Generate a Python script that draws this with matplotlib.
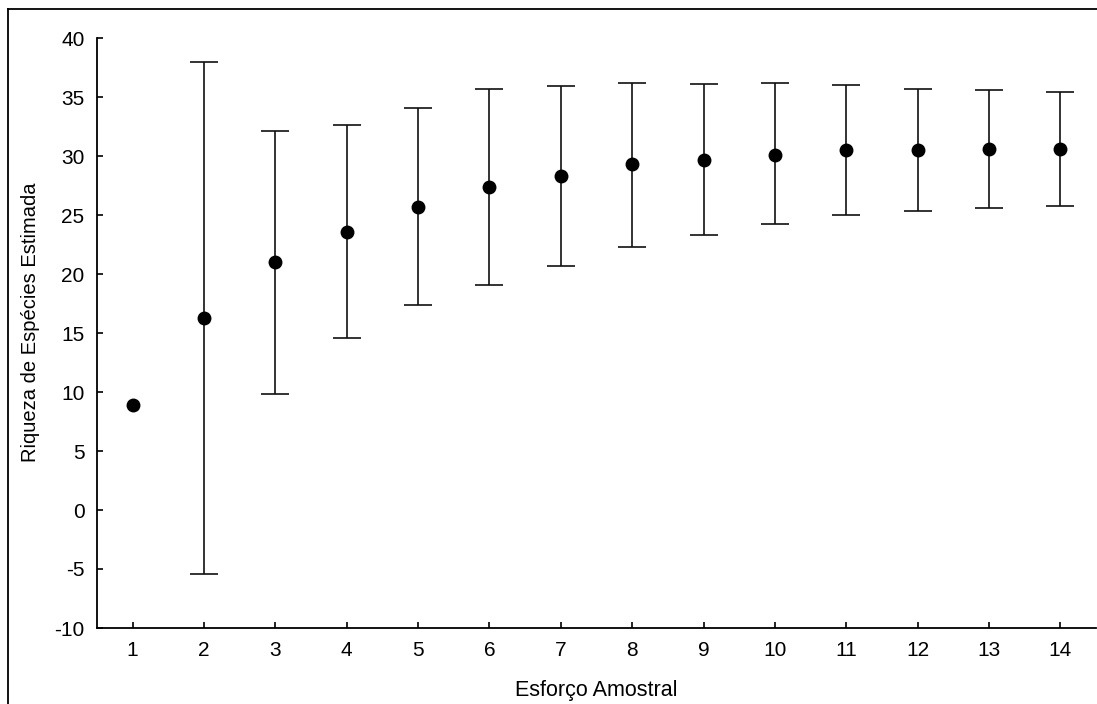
import matplotlib
matplotlib.use("Agg")
from matplotlib import pyplot as plt
from matplotlib.lines import Line2D

plt.rcParams['font.family'] = ['Liberation Sans', 'DejaVu Sans']
plt.rcParams['axes.unicode_minus'] = False

esforco = [1, 2, 3, 4, 5, 6, 7, 8, 9, 10, 11, 12, 13, 14]
riqueza = [8.9, 16.3, 21.0, 23.6, 25.7, 27.4, 28.3, 29.3, 29.7, 30.1, 30.5, 30.5, 30.6, 30.6]
superior = [8.9, 38.0, 32.1, 32.6, 34.1, 35.7, 35.9, 36.2, 36.1, 36.2, 36.0, 35.7, 35.6, 35.4]
inferior = [8.9, -5.4, 9.8, 14.6, 17.4, 19.1, 20.7, 22.3, 23.3, 24.2, 25.0, 25.3, 25.6, 25.8]

fig = plt.figure(figsize=(10.97, 7.04), dpi=100)
ax = fig.add_axes([97/1097, 1-628/704, (1096-97)/1097, (628-38)/704])

# error bars (first point has none)
err_lo = [r - i for r, i in zip(riqueza, inferior)]
err_hi = [s - r for r, s in zip(riqueza, superior)]
ax.errorbar(esforco[1:], riqueza[1:], yerr=[err_lo[1:], err_hi[1:]], fmt='none',
            ecolor='#111111', elinewidth=1.2, capsize=10, capthick=1.2)
ax.plot(esforco, riqueza, 'o', color='black', markersize=9)

ax.set_xlim(0.5, 14.5)
ax.set_ylim(-10, 40)
ax.set_xticks(esforco)
ax.set_yticks(range(-10, 41, 5))
ax.tick_params(direction='in', length=4, width=1.2, labelsize=15, pad=9)
for s in ['top', 'right']:
    ax.spines[s].set_visible(False)
for s in ['left', 'bottom']:
    ax.spines[s].set_linewidth(1.3)

ax.set_xlabel('Esforço Amostral', fontsize=15.5, labelpad=15)
ax.set_ylabel('Riqueza de Espécies Estimada', fontsize=14.5)
ax.yaxis.set_label_coords(-0.057, 0.519)

# outer frame (cut at right and bottom)
fig.add_artist(Line2D([8/1097, 8/1097], [0, 1-9/704], color='black', lw=1.3, transform=fig.transFigure))
fig.add_artist(Line2D([8/1097, 1], [1-9/704, 1-9/704], color='black', lw=1.3, transform=fig.transFigure))

fig.savefig('out.png', dpi=100)
